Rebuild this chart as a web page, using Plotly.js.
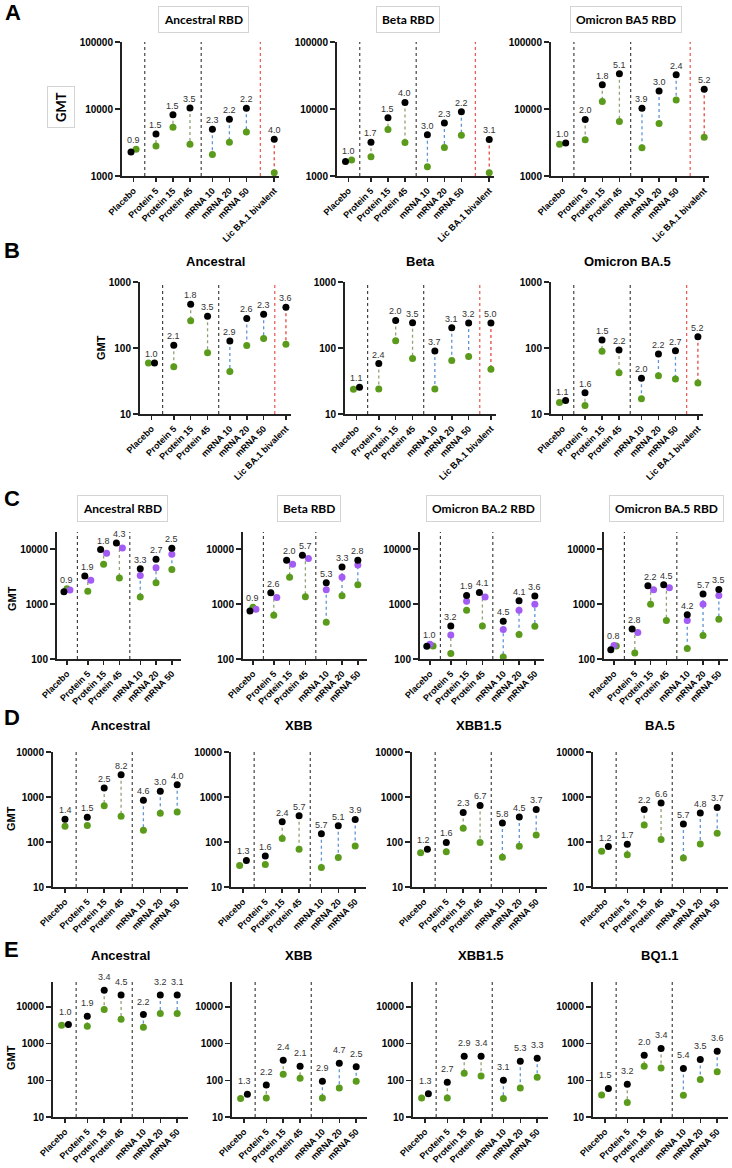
<!DOCTYPE html>
<html><head><meta charset="utf-8">
<script src="https://cdn.plot.ly/plotly-3.0.1.min.js"></script>
<style>html,body{margin:0;padding:0;background:#fff}#chart{width:732px;height:1168px}</style>
</head><body><div id="chart"></div>
<script>
// ---------- categories & tick labels ----------
const catsAB = ['Placebo','Protein 5','Protein 15','Protein 45','mRNA 10','mRNA 20','mRNA 50','Lic BA.1 bivalent'];
const catsCDE = ['Placebo','Protein 5','Protein 15','Protein 45','mRNA 10','mRNA 20','mRNA 50'];
const yTicksA = [1000, 10000, 100000];
const yTicksB = [10, 100, 1000];
const yTicksC = [100, 1000, 10000];
const yTicksD = [10, 100, 1000, 10000];
const yTicksE = [10, 100, 1000, 10000];

// ---------- Row A ----------
const A_anc_black = [2280, 4240, 8220, 10350, 4980, 7020, 10230, 3530];
const A_anc_green = [2500, 2800, 5320, 2970, 2100, 3180, 4540, 1120];
const A_anc_fold  = ['0.9','1.5','1.5','3.5','2.3','2.2','2.2','4.0'];
const A_beta_black = [1650, 3200, 7430, 12550, 4110, 6190, 9120, 3510];
const A_beta_green = [1730, 1940, 4930, 3160, 1380, 2670, 4060, 1120];
const A_beta_fold  = ['1.0','1.7','1.5','4.0','3.0','2.3','2.2','3.1'];
const A_ba5_black = [3120, 6980, 23060, 33600, 10280, 18570, 32430, 19670];
const A_ba5_green = [2980, 3490, 12900, 6530, 2630, 6100, 13680, 3790];
const A_ba5_fold  = ['1.0','2.0','1.8','5.1','3.9','3.0','2.4','5.2'];

// ---------- Row B ----------
const B_anc_black = [59, 110, 461, 302, 128, 281, 324, 414];
const B_anc_green = [59, 52, 259, 85, 44, 109, 139, 114];
const B_anc_fold  = ['1.0','2.1','1.8','3.5','2.9','2.6','2.3','3.6'];
const B_beta_black = [25.5, 58, 262, 241, 90, 202, 239, 239];
const B_beta_green = [23.8, 24, 129, 69.5, 24, 64.7, 74.5, 47.7];
const B_beta_fold  = ['1.1','2.4','2.0','3.5','3.7','3.1','3.2','5.0'];
const B_ba5_black = [16, 21, 132, 93, 34.7, 81, 91, 148];
const B_ba5_green = [15, 13.5, 89, 42, 17, 38, 34, 29.5];
const B_ba5_fold  = ['1.1','1.6','1.5','2.2','2.0','2.2','2.7','5.2'];

// ---------- Row C ----------
const C_anc_black  = [1675, 3220, 9790, 12940, 4365, 6550, 10350];
const C_anc_purple = [1795, 2720, 8400, 10500, 3310, 4560, 8050];
const C_anc_green  = [1895, 1700, 5310, 2960, 1340, 2440, 4250];
const C_anc_fold   = ['0.9','1.9','1.8','4.3','3.3','2.7','2.5'];
const C_beta_black  = [747, 1604, 6280, 7740, 2440, 4690, 6280];
const C_beta_purple = [800, 1320, 5310, 6740, 1820, 3080, 5100];
const C_beta_green  = [870, 624, 3080, 1360, 466, 1416, 2240];
const C_beta_fold   = ['0.9','2.6','2.0','5.7','5.3','3.3','2.8'];
const C_ba2_black  = [171, 399, 1435, 1626, 485, 1150, 1396];
const C_ba2_purple = [186, 274, 1118, 1340, 343, 768, 986];
const C_ba2_green  = [173, 126, 768, 399, 109, 278, 394];
const C_ba2_fold   = ['1.0','3.2','1.9','4.1','4.5','4.1','3.6'];
const C_ba5_black  = [147, 352, 2150, 2240, 641, 1517, 1845];
const C_ba5_purple = [176, 302, 1820, 1976, 499, 986, 1435];
const C_ba5_green  = [173, 128, 986, 499, 155, 267, 527];
const C_ba5_fold   = ['0.8','2.8','2.2','4.5','4.2','5.7','3.5'];

// ---------- Row D ----------
const D_anc_black = [321, 355, 1580, 3120, 844, 1335, 1875];
const D_anc_green = [224, 232, 643, 373, 183, 434, 465];
const D_anc_fold  = ['1.4','1.5','2.5','8.2','4.6','3.0','4.0'];
const D_xbb_black = [39, 49, 282, 383, 153, 230, 318];
const D_xbb_green = [30, 31.5, 120, 69, 27, 45, 81.5];
const D_xbb_fold  = ['1.3','1.6','2.4','5.7','5.7','5.1','3.9'];
const D_xbb15_black = [69, 98, 454, 649, 264, 358, 528];
const D_xbb15_green = [58, 61, 201, 97, 46, 80, 143];
const D_xbb15_fold  = ['1.2','1.6','2.3','6.7','5.8','4.5','3.7'];
const D_ba5_black = [79, 89, 528, 736, 250, 439, 586];
const D_ba5_green = [62, 52, 238, 113, 44, 90, 156];
const D_ba5_fold  = ['1.2','1.7','2.2','6.6','5.7','4.8','3.7'];

// ---------- Row E ----------
const E_anc_black = [3300, 5560, 28500, 21250, 6180, 21250, 21250];
const E_anc_green = [3160, 2970, 8460, 4610, 2790, 6580, 6580];
const E_anc_fold  = ['1.0','1.9','3.4','4.5','2.2','3.2','3.1'];
const E_xbb_black = [42, 75, 350, 240, 95, 290, 235];
const E_xbb_green = [32, 33, 146, 114, 33, 62, 94];
const E_xbb_fold  = ['1.3','2.2','2.4','2.1','2.9','4.7','2.5'];
const E_xbb15_black = [43, 89, 451, 451, 100, 330, 400];
const E_xbb15_green = [33, 33, 155, 132, 32, 62, 121];
const E_xbb15_fold  = ['1.3','2.7','2.9','3.4','3.1','5.3','3.3'];
const E_bq_black = [60, 78, 480, 740, 210, 370, 620];
const E_bq_green = [40, 25, 240, 218, 39, 106, 172];
const E_bq_fold  = ['1.5','3.2','2.0','3.4','5.4','3.5','3.6'];

// ---------- layout / styling ----------
const W = 732, H = 1168;
const FONT = 'Liberation Sans, Arial, sans-serif';
const BOXFONT = 'Lato, Open Sans, sans-serif';
const COL = {black:'#000000', green:'#5b9b1c', purple:'#a35cf3', protein:'#8fa373', mrna:'#5f95d2', lic:'#e8473f', sep:'#333333', axis:'#222222'};

const rows = {
  A:{top:42, bottom:176, yr:[3,5], ticks:yTicksA, xr:[-0.68,8.56], licGap:0.32, titleY:20, box:true, labelShift:9},
  B:{top:282, bottom:414, yr:[1,3], ticks:yTicksB, xr:[-0.68,8.26], licGap:0, titleY:261, box:false, labelShift:9},
  C:{top:532, bottom:659, yr:[2,4.31], ticks:yTicksC, xr:[-0.63,7.22], licGap:0, titleY:508, box:true, labelShift:9},
  D:{top:752, bottom:887, yr:[1,4], ticks:yTicksD, xr:[-0.71,7.28], licGap:0, titleY:725, box:false, labelShift:9},
  E:{top:982, bottom:1117, yr:[1,4.68], ticks:yTicksE, xr:[-0.71,7.28], licGap:0, titleY:955, box:false, labelShift:13}
};

const jGB = [{cats:[0], green:-0.18, black:0.18}];
const panels = [
  {row:'A', title:'Ancestral RBD', tx:204, x0:122, x1:279, cats:catsAB, black:A_anc_black, green:A_anc_green, fold:A_anc_fold, jit:[{cats:[0], black:-0.15, green:0.15}]},
  {row:'A', title:'Beta RBD', tx:408, x0:337, x1:494, cats:catsAB, black:A_beta_black, green:A_beta_green, fold:A_beta_fold, jit:[{cats:[0], black:-0.18, green:0.18}]},
  {row:'A', title:'Omicron BA5 RBD', tx:626, x0:551, x1:709, cats:catsAB, black:A_ba5_black, green:A_ba5_green, fold:A_ba5_fold, jit:jGB},
  {row:'B', title:'Ancestral', tx:215, x0:140, x1:291, cats:catsAB, black:B_anc_black, green:B_anc_green, fold:B_anc_fold, jit:jGB},
  {row:'B', title:'Beta', tx:420, x0:345, x1:496, cats:catsAB, black:B_beta_black, green:B_beta_green, fold:B_beta_fold, jit:jGB},
  {row:'B', title:'Omicron BA.5', tx:627, x0:551, x1:703, cats:catsAB, black:B_ba5_black, green:B_ba5_green, fold:B_ba5_fold, jit:jGB},
  {row:'C', title:'Ancestral RBD', tx:122, x0:57, x1:181, cats:catsCDE, black:C_anc_black, purple:C_anc_purple, green:C_anc_green, fold:C_anc_fold, jit:[{cats:[0,1,2,3], black:-0.19, green:0, purple:0.19}]},
  {row:'C', title:'Beta RBD', tx:309, x0:243, x1:367, cats:catsCDE, black:C_beta_black, purple:C_beta_purple, green:C_beta_green, fold:C_beta_fold, jit:[{cats:[0,1,2,3], black:-0.19, green:0, purple:0.19}]},
  {row:'C', title:'Omicron BA.2 RBD', tx:484, x0:420, x1:544, cats:catsCDE, black:C_ba2_black, purple:C_ba2_purple, green:C_ba2_green, fold:C_ba2_fold, jit:[{cats:[0], black:-0.2, purple:0, green:0.2},{cats:[3], black:-0.19, green:0, purple:0.17}]},
  {row:'C', title:'Omicron BA.5 RBD', tx:666, x0:604, x1:728, cats:catsCDE, black:C_ba5_black, purple:C_ba5_purple, green:C_ba5_green, fold:C_ba5_fold, jit:[{cats:[0], black:-0.2, purple:0, green:0.15},{cats:[1,2,3], black:-0.17, green:0, purple:0.19}]},
  {row:'D', title:'Ancestral', tx:121, x0:53, x1:188, cats:catsCDE, black:D_anc_black, green:D_anc_green, fold:D_anc_fold, jit:[]},
  {row:'D', title:'XBB', tx:298, x0:231, x1:366, cats:catsCDE, black:D_xbb_black, green:D_xbb_green, fold:D_xbb_fold, jit:[{cats:[0], green:-0.2, black:0.2}]},
  {row:'D', title:'XBB1.5', tx:479, x0:412, x1:547, cats:catsCDE, black:D_xbb15_black, green:D_xbb15_green, fold:D_xbb15_fold, jit:[{cats:[0], green:-0.2, black:0.2}]},
  {row:'D', title:'BA.5', tx:660, x0:593, x1:728, cats:catsCDE, black:D_ba5_black, green:D_ba5_green, fold:D_ba5_fold, jit:[{cats:[0], green:-0.2, black:0.2}]},
  {row:'E', title:'Ancestral', tx:121, x0:53, x1:188, cats:catsCDE, black:E_anc_black, green:E_anc_green, fold:E_anc_fold, jit:[{cats:[0], green:-0.2, black:0.2}]},
  {row:'E', title:'XBB', tx:298, x0:232, x1:367, cats:catsCDE, black:E_xbb_black, green:E_xbb_green, fold:E_xbb_fold, jit:[{cats:[0], green:-0.2, black:0.2}]},
  {row:'E', title:'XBB1.5', tx:481, x0:413, x1:548, cats:catsCDE, black:E_xbb15_black, green:E_xbb15_green, fold:E_xbb15_fold, jit:[{cats:[0], green:-0.2, black:0.2}]},
  {row:'E', title:'BQ1.1', tx:660, x0:593, x1:728, cats:catsCDE, black:E_bq_black, green:E_bq_green, fold:E_bq_fold, jit:[{cats:[0], green:-0.2, black:0.2}]}
];

const traces = [], shapes = [], annotations = [];
const layout = {
  width:W, height:H, margin:{l:0,r:0,t:0,b:0}, paper_bgcolor:'#fff', plot_bgcolor:'rgba(0,0,0,0)',
  showlegend:false, font:{family:FONT, color:'#000'}
};

function groupOf(c){ return c==='Placebo'?0 : c.indexOf('Protein')===0?1 : c.indexOf('mRNA')===0?2 : 3; }

panels.forEach((p,k)=>{
  const n = k+1;
  const xa = n===1?'x':'x'+n, ya = n===1?'y':'y'+n;
  const xk = n===1?'xaxis':'xaxis'+n, yk = n===1?'yaxis':'yaxis'+n;
  const r = rows[p.row];
  const grp = p.cats.map(groupOf);
  const pos = p.cats.map((c,i)=> i + 0.32*Math.min(grp[i],2) + (grp[i]===3 ? 0.32 + r.licGap : 0));
  const seriesNames = ['green','purple','black'].filter(s=>p[s]);
  function off(s,i){
    for(const j of p.jit){ if(j.cats.indexOf(i)>=0 && j[s]!==undefined) return j[s]; }
    return 0;
  }
  const lineCols = {1:COL.protein, 2:COL.mrna, 3:COL.lic};
  [1,2,3].forEach(g=>{
    const xs=[], ys=[];
    p.cats.forEach((c,i)=>{
      if(grp[i]!==g) return;
      const vals = seriesNames.map(s=>p[s][i]);
      xs.push(pos[i],pos[i],null); ys.push(Math.max(...vals),Math.min(...vals),null);
    });
    if(xs.length) traces.push({type:'scatter', mode:'lines', x:xs, y:ys, xaxis:xa, yaxis:ya,
      line:{color:lineCols[g], width:1.3, dash:'dot'}, hoverinfo:'skip'});
  });
  for(let i=1;i<p.cats.length;i++){
    if(grp[i]!==grp[i-1]){
      const xs=(pos[i]+pos[i-1])/2;
      shapes.push({type:'line', xref:xa, yref:ya+' domain', x0:xs, x1:xs, y0:0, y1:1,
        line:{color: grp[i]===3?COL.lic:COL.sep, width:1.1, dash:'dot'}});
    }
  }
  seriesNames.forEach(s=>{
    traces.push({type:'scatter', mode:'markers', xaxis:xa, yaxis:ya,
      x:pos.map((v,i)=>v+off(s,i)), y:p[s],
      marker:{color:COL[s], size:7, line:{width:0}}, hoverinfo:'skip'});
  });
  p.fold.forEach((t,i)=>{
    const top = Math.max(...seriesNames.map(s=>p[s][i]));
    annotations.push({xref:xa, yref:ya, x:pos[i], y:Math.log10(top), text:t, showarrow:false,
      xanchor:'center', yanchor:'middle', yshift:r.labelShift, font:{family:FONT, size:9, color:'#333'}});
  });
  layout[xk] = {domain:[p.x0/W, p.x1/W], range:r.xr, anchor:ya, tickmode:'array', tickvals:pos, ticktext:p.cats,
    tickangle:-45, ticks:'outside', ticklen:4, tickwidth:1.5, tickcolor:COL.axis, showline:true, linewidth:2,
    linecolor:COL.axis, showgrid:false, zeroline:false, fixedrange:true,
    tickfont:{family:FONT, size:9, weight:'bold', color:'#000'}};
  layout[yk] = {domain:[1-r.bottom/H, 1-r.top/H], type:'log', range:r.yr, anchor:xa, tickmode:'array',
    tickvals:r.ticks, ticktext:r.ticks.map(String), ticks:'outside', ticklen:5, tickwidth:1.5, tickcolor:COL.axis,
    showline:true, linewidth:2, linecolor:COL.axis, showgrid:false, zeroline:false, fixedrange:true,
    tickfont:{family:FONT, size:10, weight:'bold', color:'#000'}};
  const ta = {xref:'paper', yref:'paper', x:p.tx/W, y:1-r.titleY/H, xanchor:'center', yanchor:'middle',
    text:p.title, showarrow:false};
  if(r.box){
    Object.assign(ta, {font:{family:BOXFONT, size:12, weight:'bold', color:'#000'}, bordercolor:'#d4d4d4',
      borderwidth:1, borderpad:5, bgcolor:'#fff'});
  } else {
    Object.assign(ta, {font:{family:FONT, size:13, weight:'bold', color:'#000'}});
  }
  annotations.push(ta);
});

const letters = [['A',13,12],['B',12,250],['C',12,498],['D',12,717],['E',11,949]];
letters.forEach(([t,x,y])=>annotations.push({xref:'paper', yref:'paper', x:x/W, y:1-y/H, text:t, showarrow:false,
  xanchor:'center', yanchor:'middle', font:{family:FONT, size:22, weight:'bold', color:'#000'}}));

annotations.push({xref:'paper', yref:'paper', x:61/W, y:1-107/H, xanchor:'center', yanchor:'middle', text:'GMT',
  textangle:-90, showarrow:false, font:{family:BOXFONT, size:13, weight:'bold', color:'#000'},
  bordercolor:'#d4d4d4', borderwidth:1, borderpad:5});
[[101,347],[12,599],[11,819],[11,1058]].forEach(([x,y])=>annotations.push({xref:'paper', yref:'paper', x:x/W, y:1-y/H,
  xanchor:'center', yanchor:'middle', text:'GMT', textangle:-90, showarrow:false,
  font:{family:FONT, size:11, weight:'bold', color:'#000'}}));

layout.shapes = shapes;
layout.annotations = annotations;
Plotly.newPlot('chart', traces, layout, {displayModeBar:false, staticPlot:true});
</script>
</body></html>
